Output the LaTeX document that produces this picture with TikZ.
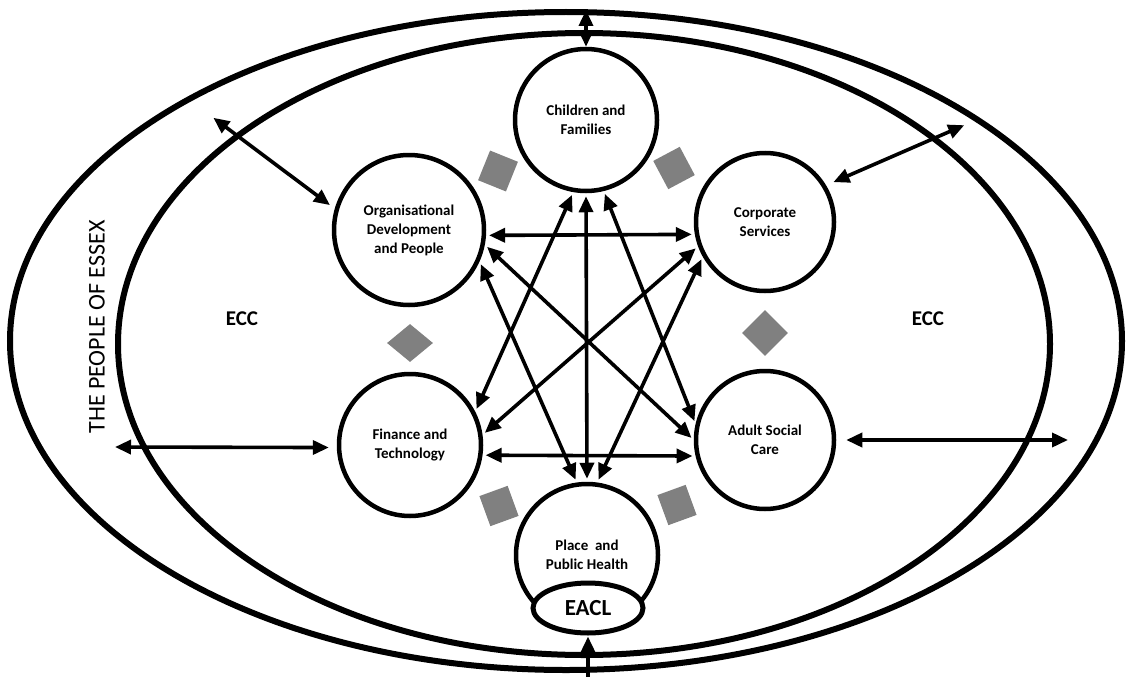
\documentclass[tikz,border=0pt]{standalone}
\usepackage{fontspec}
\setmainfont{Carlito}
\usetikzlibrary{arrows.meta,shapes.geometric}
\tikzset{
  unit/.style={circle, draw, line width=4.5pt, fill=white, minimum size=142pt,
    inner sep=0pt, align=center, font=\fontsize{15}{19}\selectfont\bfseries},
  tile/.style={fill=black!50, minimum width=30pt, minimum height=32pt, inner sep=0pt},
  link/.style={line width=3.6pt, shorten <=3pt, shorten >=3pt,
    {Triangle[length=16pt,width=14pt]}-{Triangle[length=16pt,width=14pt]}},
  ring/.style={line width=6pt},
}
\begin{document}
\begin{tikzpicture}[x=1pt,y=-1pt]
    \useasboundingbox (0,0) rectangle (1130,677);
    %% Rings
    \draw[ring] (566,341) ellipse [x radius=556pt, y radius=329pt];
    \draw[ring] (584,344) ellipse [x radius=466pt, y radius=311pt];
    \node[rotate=90, font=\fontsize{24}{28}\selectfont] (people) at (97,327) {THE PEOPLE OF ESSEX};
    \node[font=\fontsize{21}{24}\selectfont\bfseries] (eccl) at (242,319) {ECC};
    \node[font=\fontsize{21}{24}\selectfont\bfseries] (eccr) at (928,319) {ECC};
    %% Grey tiles
    \node[tile, rotate=-22] (t1) at (498,171) {};
    \node[tile, rotate=28] (t2) at (674,168) {};
    \node[tile, diamond, minimum width=46pt, minimum height=38pt] (t3) at (410,343) {};
    \node[tile, diamond, minimum width=46pt, minimum height=46pt] (t4) at (765,333) {};
    \node[tile, rotate=20] (t5) at (499,506) {};
    \node[tile, rotate=20] (t6) at (677,505) {};
    %% Directorates
    \node[unit] (cf) at (586,120) {Children and\\Families};
    \node[unit, minimum size=150pt] (odp) at (409,230) {Organisational\\Development\\and People};
    \node[unit, minimum size=138pt] (cs) at (765,222) {Corporate\\Services};
    \node[unit] (ft) at (410,445) {Finance and\\Technology};
    \node[unit, minimum size=138pt] (asc) at (765,440) {Adult Social\\Care};
    \node[unit] (pph) at (587,555) {Place~ and\\Public Health};
    \node[ellipse, draw, line width=5pt, fill=white, minimum width=110pt, minimum height=50pt,
        inner sep=0pt, font=\fontsize{23}{26}\selectfont\bfseries] (eacl) at (588,608) {EACL};
    %% Links between directorates
    \draw[link] (odp.-4) -- (cs.190);
    \draw[link] (ft.-8) -- (asc.193);
    \draw[link] (cf.south) -- (pph.north);
    \draw[link] (cf.260) -- (ft.27);
    \draw[link] (cf.284) -- (asc.167);
    \draw[link] (odp.-11) -- (asc.180);
    \draw[link] (odp.-24) -- (pph.98);
    \draw[link] (cs.200) -- (ft.8);
    \draw[link] (cs.209) -- (pph.82);
    %% Links to the rings
    \coordinate (nw) at (211,116);
    \coordinate (ne) at (967,124);
    \coordinate (w) at (112,447);
    \coordinate (e) at (1071,440);
    \coordinate (top) at (586,10);
    \coordinate (bot) at (588,680);
    \draw[link, shorten >=6pt] (nw) -- (odp.164);
    \draw[link, shorten >=8pt] (ne) -- (cs.31);
    \draw[link, shorten >=8pt] (w) -- (ft.182);
    \draw[link, shorten <=10pt] (asc.east) -- (e);
    \draw[link, shorten >=0pt, shorten <=0pt] (top) -- (cf.north);
    \draw[line width=3.6pt, shorten >=1pt, -{Triangle[length=16pt,width=14pt]}] (bot) -- (eacl.south);
\end{tikzpicture}
\end{document}
